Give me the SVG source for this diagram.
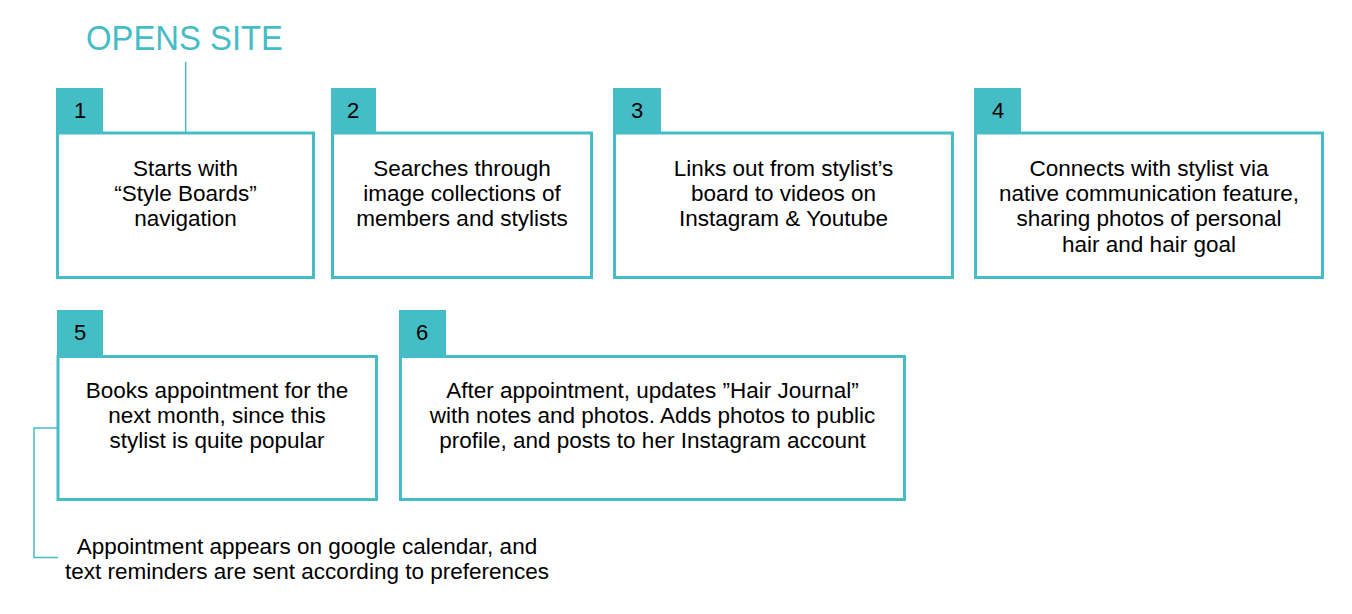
<svg xmlns="http://www.w3.org/2000/svg" width="1352" height="614" viewBox="0 0 1352 614">
<style>
.box{fill:#fff;stroke:#45bdc6;stroke-width:3}
.tab{fill:#45bdc6}
.num{font-family:"Liberation Sans",Arial,sans-serif;font-size:22px;fill:#000;text-anchor:middle}
.txt{font-family:"Liberation Sans",Arial,sans-serif;font-size:22.5px;fill:#000;text-anchor:middle}
.conn{fill:none;stroke:#45bdc6;stroke-width:1.5}
.title{font-family:"Liberation Sans",Arial,sans-serif;font-size:35px;fill:#45bdc6}
</style>
<rect width="1352" height="614" fill="#fff"/>
<g id="connectors">
<line class="conn" x1="185.7" y1="62" x2="185.7" y2="132"/>
<path class="conn" d="M58 428 H34 V557.5 H58"/>
</g>
<g id="title">
<text class="title" x="86" y="50" textLength="197" lengthAdjust="spacingAndGlyphs">OPENS SITE</text>
</g>
<g id="node1">
<rect class="tab" x="56" y="88" width="47" height="45"/>
<text class="num" x="80" y="118">1</text>
<rect class="box" x="57.5" y="133" width="256" height="144.5"/>
<text class="txt" x="185.5" y="175.5">Starts with</text>
<text class="txt" x="185.5" y="200.5">“Style Boards”</text>
<text class="txt" x="185.5" y="226">navigation</text>
</g>
<g id="node2">
<rect class="tab" x="331" y="88" width="45" height="45"/>
<text class="num" x="353" y="118">2</text>
<rect class="box" x="332.5" y="133" width="259" height="144.5"/>
<text class="txt" x="462" y="175.5">Searches through</text>
<text class="txt" x="462" y="200.5">image collections of</text>
<text class="txt" x="462" y="226">members and stylists</text>
</g>
<g id="node3">
<rect class="tab" x="613" y="88" width="48" height="45"/>
<text class="num" x="637" y="118">3</text>
<rect class="box" x="614.5" y="133" width="338" height="144.5"/>
<text class="txt" x="783.5" y="175.5">Links out from stylist’s</text>
<text class="txt" x="783.5" y="200.5">board to videos on</text>
<text class="txt" x="783.5" y="226">Instagram &amp; Youtube</text>
</g>
<g id="node4">
<rect class="tab" x="974" y="88" width="47" height="45"/>
<text class="num" x="998" y="118">4</text>
<rect class="box" x="975.5" y="133" width="347" height="144.5"/>
<text class="txt" x="1149" y="175.5">Connects with stylist via</text>
<text class="txt" x="1149" y="200.5">native communication feature,</text>
<text class="txt" x="1149" y="226">sharing photos of personal</text>
<text class="txt" x="1149" y="251.5">hair and hair goal</text>
</g>
<g id="node5">
<rect class="tab" x="57" y="310" width="46" height="46"/>
<text class="num" x="80" y="340">5</text>
<rect class="box" x="58" y="356.5" width="318.5" height="143"/>
<text class="txt" x="217" y="398">Books appointment for the</text>
<text class="txt" x="217" y="423">next month, since this</text>
<text class="txt" x="217" y="448">stylist is quite popular</text>
</g>
<g id="node6">
<rect class="tab" x="399" y="310" width="47" height="46"/>
<text class="num" x="422" y="340">6</text>
<rect class="box" x="400.5" y="356.5" width="504" height="143"/>
<text class="txt" x="652.5" y="398">After appointment, updates ”Hair Journal”</text>
<text class="txt" x="652.5" y="423">with notes and photos. Adds photos to public</text>
<text class="txt" x="652.5" y="448">profile, and posts to her Instagram account</text>
</g>
<g id="note5">
<text class="txt" x="307" y="553.5">Appointment appears on google calendar, and</text>
<text class="txt" x="307" y="579">text reminders are sent according to preferences</text>
</g>
</svg>
